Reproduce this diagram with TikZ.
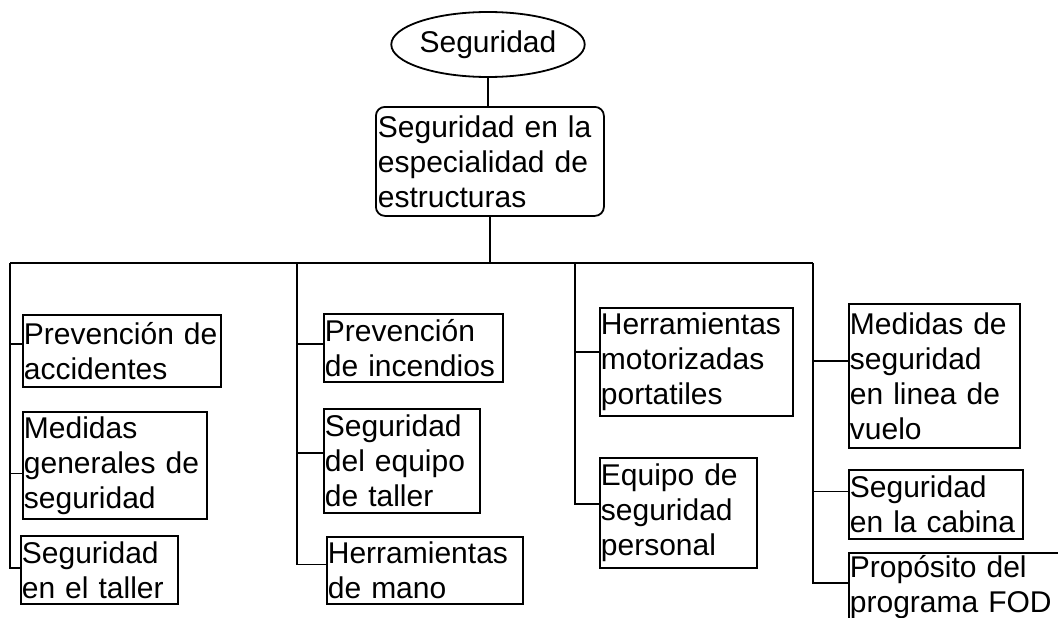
\documentclass[tikz,border=0pt]{standalone}
\usepackage{fontspec}
\setmainfont{Liberation Sans}
\usetikzlibrary{positioning, shapes}
\newcommand{\boxfont}{\fontsize{30}{35}\selectfont}
\newcommand{\rulewidth}{1.8pt}
\tikzstyle{topic} = [% the subject at the top of the tree
  ellipse,
  minimum width=184pt,
  minimum height=65pt,
  inner sep=0pt,
  draw=black,
  line width=\rulewidth,
  font=\boxfont
  ]
\tikzstyle{area} = [% the speciality below the subject
  rectangle,
  rounded corners=9pt,
  anchor=north west,
  text width=224pt,
  minimum height=109pt,
  inner xsep=2pt,
  align=left,
  draw=black,
  line width=\rulewidth,
  font=\boxfont
  ]
\tikzstyle{leaf} = [% one topic of a branch
  rectangle,
  anchor=north west,
  inner xsep=1pt,
  inner ysep=0pt,
  align=left,
  draw=black,
  line width=\rulewidth,
  font=\boxfont
  ]
\tikzstyle{link} = [% tree lines
  line width=\rulewidth
  ]
\tikzset{leafdim/.style 2 args={text width=#1, minimum height=#2}}

\begin{document}
\begin{tikzpicture}[x=1pt, y=-1pt]
\clip (0,0) rectangle (1058,618);

%%% Nodes
\node[topic] (seg) at (488,44.5) {Seguridad};
\node[area] (estr) at (375,106) {Seguridad en la\\especialidad de\\estructuras};

\node[leaf, leafdim={196pt}{72pt}] (acc) at (22,314) {Prevención de\\accidentes};
\node[leaf, leafdim={182pt}{107pt}] (gen) at (22,411) {Medidas\\generales de\\seguridad};
\node[leaf, leafdim={155pt}{68pt}] (tall) at (20,535) {Seguridad\\en el taller};

\node[leaf, leafdim={177pt}{68pt}] (inc) at (323,313) {Prevención\\de incendios};
\node[leaf, leafdim={154pt}{104pt}] (equ) at (323,408) {Seguridad\\del equipo\\de taller};
\node[leaf, leafdim={194pt}{67pt}] (mano) at (326,536) {Herramientas\\de mano};

\node[leaf, leafdim={191pt}{108pt}] (mot) at (599,307) {Herramientas\\motorizadas\\portatiles};
\node[leaf, leafdim={155pt}{110pt}] (pers) at (599,457) {Equipo de\\seguridad\\personal};

\node[leaf, leafdim={169pt}{144pt}] (vuelo) at (848,303) {Medidas de\\seguridad\\en linea de\\vuelo};
\node[leaf, leafdim={172pt}{69pt}] (cab) at (848,469) {Seguridad\\en la cabina};
\node[leaf, leafdim={228pt}{68pt}] (fod) at (848,552) {Propósito del\\programa FOD};

%%% Bus
\coordinate (busA) at (10,263);
\coordinate (busB) at (297,263);
\coordinate (busC) at (575,263);
\coordinate (busD) at (813,263);

%%%
\draw[link] (seg.south) -- (seg.south |- estr.north);
\draw[link] (estr.south) -- (estr.south |- busA);
\draw[link] (busA) -- (busD);
\draw[link] (busA) |- ([yshift=7pt]acc.west);
\draw[link] (busA) |- ([yshift=-8pt]gen.west);
\draw[link] (busA) |- ([yshift=2pt]tall.west);
\draw[link] (busB) |- ([yshift=4pt]inc.west);
\draw[link] (busB) |- ([yshift=8pt]equ.west);
\draw[link] (busB) |- ([yshift=6pt]mano.west);
\draw[link] (busC) |- ([yshift=10pt]mot.west);
\draw[link] (busC) |- ([yshift=9pt]pers.west);
\draw[link] (busD) |- ([yshift=15pt]vuelo.west);
\draw[link] (busD) |- ([yshift=13pt]cab.west);
\draw[link] (busD) |- ([yshift=4pt]fod.west);

\end{tikzpicture}
\end{document}
